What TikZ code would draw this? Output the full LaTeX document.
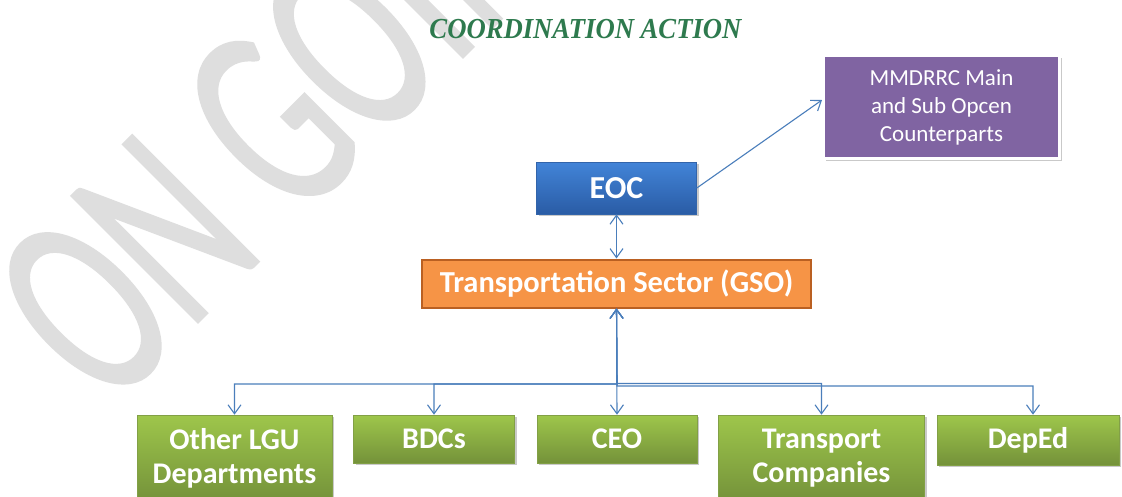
\documentclass[tikz,border=0pt]{standalone}
\usepackage{fontspec}
\usepackage{graphicx}
\setmainfont{Carlito}
\newfontfamily\titlefont{Liberation Serif}
\newfontfamily\wmfont[FakeBold=1]{Carlito}
\usetikzlibrary{arrows.meta,shadows}
\definecolor{wmgray}{RGB}{222,222,222}
\definecolor{titlegreen}{RGB}{46,122,78}
\definecolor{lineblue}{RGB}{74,126,187}
\definecolor{btop}{RGB}{66,132,216}
\definecolor{bbot}{RGB}{42,92,165}
\definecolor{bborder}{RGB}{50,100,170}
\definecolor{purplefill}{RGB}{128,100,162}
\definecolor{orangefill}{RGB}{246,148,70}
\definecolor{orangeborder}{RGB}{186,96,34}
\definecolor{gtop}{RGB}{158,198,75}
\definecolor{gbot}{RGB}{116,146,58}
\definecolor{gborder}{RGB}{130,160,70}
\tikzset{
  box/.style={rectangle, inner sep=0pt, align=center, text=white,
    font=\bfseries\fontsize{30}{34}\selectfont},
  shadowed/.style={drop shadow={opacity=0.35, shadow xshift=2pt, shadow yshift=-2pt, fill=black!60}},
  greenbox/.style={box, shadowed, draw=gborder, line width=0.6pt, top color=gtop, bottom color=gbot},
  bluebox/.style={box, shadowed, draw=bborder, line width=0.6pt, top color=btop, bottom color=bbot,
    font=\bfseries\fontsize{32}{36}\selectfont},
  orangebox/.style={box, draw=orangeborder, line width=2pt, fill=orangefill,
    font=\bfseries\fontsize{30.5}{34}\selectfont},
  purplebox/.style={box, shadowed, draw=white, line width=3pt, fill=purplefill,
    font=\fontsize{23}{28}\selectfont},
  tip/.tip={Straight Barb[length=9pt,width=13pt,line width=1.1pt]},
  conn/.style={draw=lineblue, line width=1.1pt},
}
\begin{document}
\begin{tikzpicture}[x=1pt,y=-1pt]
\useasboundingbox (0,0) rectangle (1122,496);
\fill[white] (0,0) rectangle (1122,496);
% watermark
\node[rotate=45, anchor=base west, inner sep=0pt, text=wmgray] (wm) at (108,412)
  {\scalebox{0.62}[1]{\wmfont\fontsize{278}{278}\selectfont ON GOING}};
% title
\node[anchor=base, inner sep=0pt, text=titlegreen,
  font=\titlefont\bfseries\itshape\fontsize{29}{29}\selectfont] (title) at (585.5,38)
  {\scalebox{0.92}[1]{COORDINATION ACTION}};
% boxes
\node[bluebox, minimum width=160pt, minimum height=52pt] (eoc) at (616.5,188) {EOC};
\node[purplebox, minimum width=236pt, minimum height=103pt] (mm) at (941.5,107)
  {MMDRRC Main\\and Sub Opcen\\Counterparts};
\node[orangebox, minimum width=389pt, minimum height=48pt] (trans) at (616.5,283.5) {Transportation Sector (GSO)};
\node[greenbox, minimum width=195pt, minimum height=86pt] (oth) at (234.5,458) {Other LGU\\Departments};
\node[greenbox, minimum width=161pt, minimum height=48pt] (bdc) at (434,439) {BDCs};
\node[greenbox, minimum width=160pt, minimum height=48pt] (ceo) at (617,439) {CEO};
\node[greenbox, minimum width=206pt, minimum height=86pt] (trc) at (821.5,458) {Transport\\Companies};
\node[greenbox, minimum width=182pt, minimum height=50pt] (dep) at (1028,440) {DepEd};
% connectors
\draw[conn, -tip] (eoc.east) -- ([yshift=7pt]mm.west);
\draw[conn, tip-tip] (eoc.south) -- (trans.north);
\draw[conn, tip-tip] (trans.south) -- (ceo.north);
\draw[conn, tip-tip] (trans.south) -- (617,384) -| (oth.north);
\draw[conn, tip-tip] (trans.south) -- (617,384) -| (bdc.north);
\draw[conn, tip-tip] (trans.south) -- (617,383.5) -| (trc.north);
\draw[conn, tip-tip] (trans.south) -- (617,386) -| ([xshift=5pt]dep.north);
\end{tikzpicture}
\end{document}
